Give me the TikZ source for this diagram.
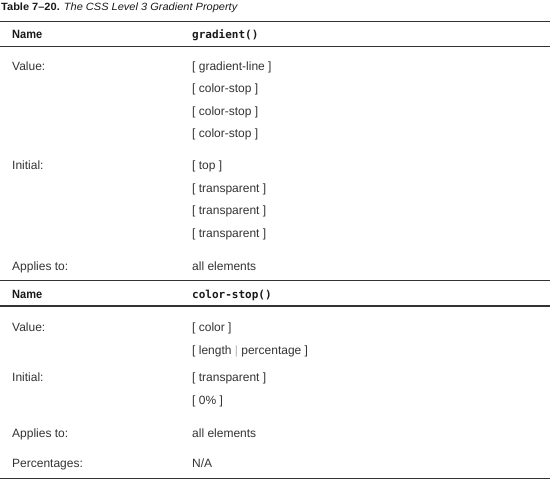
\documentclass[tikz,border=0pt]{standalone}
\usepackage{fontspec}
\setmainfont{Liberation Sans}
\newfontfamily\headfont[FakeStretch=0.92]{Liberation Sans}
\newfontfamily\titlefont[FakeStretch=1.05]{Liberation Sans}
\newfontfamily\codefont{DejaVu Sans Mono}

\begin{document}
\begin{tikzpicture}[x=1pt,y=-1pt,
    txt/.style={anchor=base west, inner sep=0pt, text=black!80, font=\fontsize{12}{14}\selectfont},
    head/.style={txt, text=black!90, font=\headfont\bfseries\fontsize{12}{14}\selectfont},
    code/.style={txt, text=black!90, font=\codefont\bfseries\fontsize{11}{13}\selectfont},
    rule/.style={line width=1.2pt, black!80}]
    \useasboundingbox (0,0) rectangle (550,480);
    \node[txt, text=black!90, font=\titlefont\fontsize{10.5}{12}\selectfont] (title) at (1,10) {\textbf{Table 7–20.} \textit{The CSS Level 3 Gradient Property}};
    \draw[rule] (0,21.7) -- (550,21.7);
    \node[head] (name1) at (12,38.3) {Name};
    \node[code] (prop1) at (192,38.3) {gradient()};
    \draw[rule] (0,46.7) -- (550,46.7);
    % first property
    \node[txt] (value1) at (12,70) {Value:};
    \node[txt] (val1a) at (192,70) {[ gradient-line ]};
    \node[txt] (val1b) at (192,92.6) {[ color-stop ]};
    \node[txt] (val1c) at (192,115) {[ color-stop ]};
    \node[txt] (val1d) at (192,137.6) {[ color-stop ]};
    \node[txt] (init1) at (12,169.3) {Initial:};
    \node[txt] (ini1a) at (192,169.3) {[ top ]};
    \node[txt] (ini1b) at (192,192) {[ transparent ]};
    \node[txt] (ini1c) at (192,214.6) {[ transparent ]};
    \node[txt] (ini1d) at (192,237.3) {[ transparent ]};
    \node[txt] (appl1) at (12,270.5) {Applies to:};
    \node[txt] (app1a) at (192,270.5) {all elements};
    \draw[rule] (0,280.7) -- (550,280.7);
    \node[head] (name2) at (12,298.5) {Name};
    \node[code] (prop2) at (192,298.5) {color-stop()};
    \draw[rule] (0,305.9) -- (550,305.9);
    % second property
    \node[txt] (value2) at (12,331.5) {Value:};
    \node[txt] (val2a) at (192,331.5) {[ color ]};
    \node[txt] (val2b) at (192,354.5) {[ length {\color{black!30}|} percentage ]};
    \node[txt] (init2) at (12,381.5) {Initial:};
    \node[txt] (ini2a) at (192,381.5) {[ transparent ]};
    \node[txt] (ini2b) at (192,404.5) {[ 0\% ]};
    \node[txt] (appl2) at (12,437.5) {Applies to:};
    \node[txt] (app2a) at (192,437.5) {all elements};
    \node[txt] (perc2) at (12,467.5) {Percentages:};
    \node[txt] (per2a) at (192,467.5) {N/A};
    \draw[rule] (0,478.8) -- (550,478.8);
\end{tikzpicture}
\end{document}
